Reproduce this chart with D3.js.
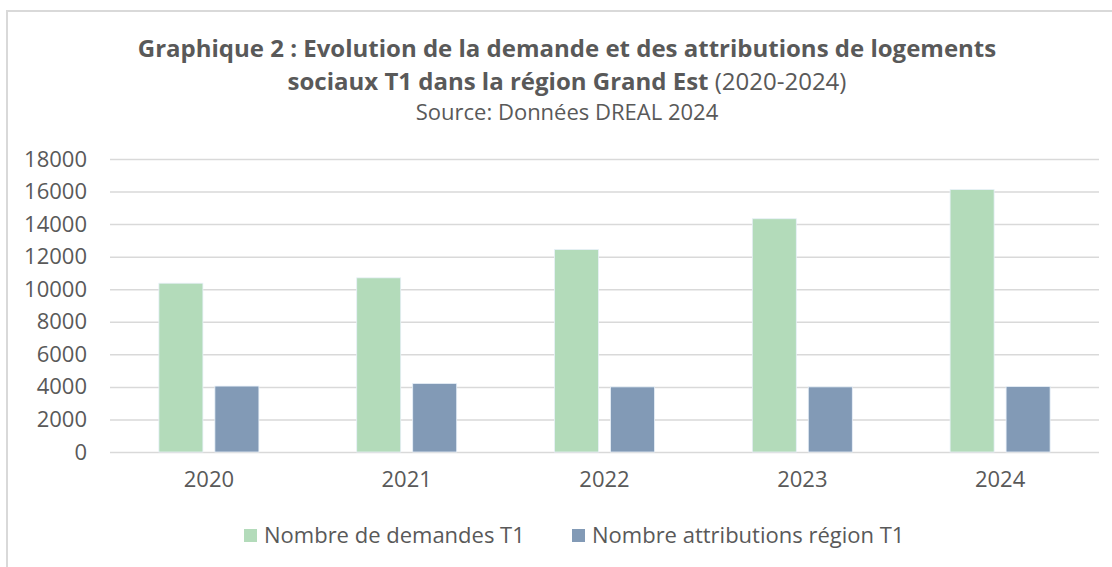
<!DOCTYPE html>
<html>
<head>
<meta charset="utf-8">
<script src="https://cdn.jsdelivr.net/npm/d3@7"></script>
<style>
    body { margin: 0; background: #fff; }
    svg { display: block; font-family: "Open Sans", "Liberation Sans", Arial, sans-serif; }
</style>
</head>
<body>
<svg id="chart"></svg>
<script>
const years = ["2020", "2021", "2022", "2023", "2024"];
const seriesNames = ["Nombre de demandes T1", "Nombre attributions région T1"];
const demandes = [10370, 10700, 12440, 14330, 16120];
const attributions = [4050, 4210, 4000, 4000, 4020];
const yTicks = [0, 2000, 4000, 6000, 8000, 10000, 12000, 14000, 16000, 18000];
const colors = ["#b3dbba", "#829ab6"];

const width = 1112;
const height = 567;
const margin = { left: 110, right: 13, top: 159, bottom: 115 };
const textColor = "#595959";
const fontFamily = "'Open Sans', 'Liberation Sans', Arial, sans-serif";

var svg = d3.select("#chart")
    .attr("width", width)
    .attr("height", height);

// chart frame
svg.append("rect")
    .attr("x", 7)
    .attr("y", 11)
    .attr("width", 1130)
    .attr("height", 600)
    .attr("fill", "none")
    .attr("stroke", "#d9d9d9")
    .attr("stroke-width", 2);

// titles
svg.append("text")
    .attr("x", 567)
    .attr("y", 57)
    .attr("text-anchor", "middle")
    .attr("fill", textColor)
    .style("font-size", "24px")
    .style("font-weight", "bold")
    .text("Graphique 2 : Evolution de la demande et des attributions de logements");

var title2 = svg.append("text")
    .attr("x", 567)
    .attr("y", 90)
    .attr("text-anchor", "middle")
    .attr("fill", textColor)
    .style("font-size", "24px");
title2.append("tspan").style("font-weight", "bold").text("sociaux T1 dans la région Grand Est");
title2.append("tspan").text(" (2020-2024)");

svg.append("text")
    .attr("x", 567)
    .attr("y", 120)
    .attr("text-anchor", "middle")
    .attr("fill", textColor)
    .style("font-size", "22px")
    .text("Source: Données DREAL 2024");

var plotW = width - margin.left - margin.right;
var plotH = height - margin.top - margin.bottom;

var x0 = d3.scaleBand()
    .domain(years)
    .range([margin.left, margin.left + plotW])
    .padding(0);

var groupW = 100;
var x1 = d3.scaleBand()
    .domain(seriesNames)
    .range([x0.bandwidth() / 2 - groupW / 2, x0.bandwidth() / 2 + groupW / 2])
    .paddingInner(0.214);

var y = d3.scaleLinear()
    .domain([0, 18000])
    .range([margin.top + plotH, margin.top]);

// gridlines + y labels
var yAxis = svg.append("g")
    .attr("transform", "translate(" + margin.left + ",0)")
    .call(d3.axisLeft(y).tickValues(yTicks).tickSize(-plotW).tickPadding(23).tickFormat(d3.format("d")));
yAxis.select(".domain").remove();
yAxis.selectAll(".tick line")
    .attr("stroke", "#d9d9d9")
    .attr("stroke-width", 1.5);
yAxis.selectAll(".tick text")
    .attr("fill", textColor)
    .style("font-size", "22px")
    .style("font-family", fontFamily);

// x labels
var xAxis = svg.append("g")
    .attr("transform", "translate(0," + (margin.top + plotH) + ")")
    .call(d3.axisBottom(x0).tickSize(0).tickPadding(19));
xAxis.select(".domain").remove();
xAxis.selectAll(".tick text")
    .attr("fill", textColor)
    .style("font-size", "22px")
    .style("font-family", fontFamily);

// bars
var rows = years.map(function (yr, i) {
    return { year: yr, values: [demandes[i], attributions[i]] };
});

var groups = svg.append("g").selectAll("g")
    .data(rows)
    .join("g")
    .attr("transform", function (d) { return "translate(" + x0(d.year) + ",0)"; });

groups.selectAll("rect")
    .data(function (d) {
        return d.values.map(function (v, j) { return { name: seriesNames[j], value: v, idx: j }; });
    })
    .join("rect")
    .attr("x", function (d) { return x1(d.name); })
    .attr("width", x1.bandwidth())
    .attr("y", function (d) { return y(d.value); })
    .attr("height", function (d) { return y(0) - y(d.value); })
    .attr("fill", function (d) { return colors[d.idx]; })
    .attr("stroke", "#e8f0f8")
    .attr("stroke-width", 0.8);

// legend
var legendX = [244, 572];
var legend = svg.append("g").selectAll("g")
    .data(seriesNames)
    .join("g")
    .attr("transform", function (d, i) { return "translate(" + legendX[i] + ",529)"; });

legend.append("rect")
    .attr("width", 13)
    .attr("height", 13)
    .attr("fill", function (d, i) { return colors[i]; });

legend.append("text")
    .attr("x", 20)
    .attr("y", 14)
    .attr("fill", textColor)
    .style("font-size", "22px")
    .text(function (d) { return d; });
</script>
</body>
</html>
